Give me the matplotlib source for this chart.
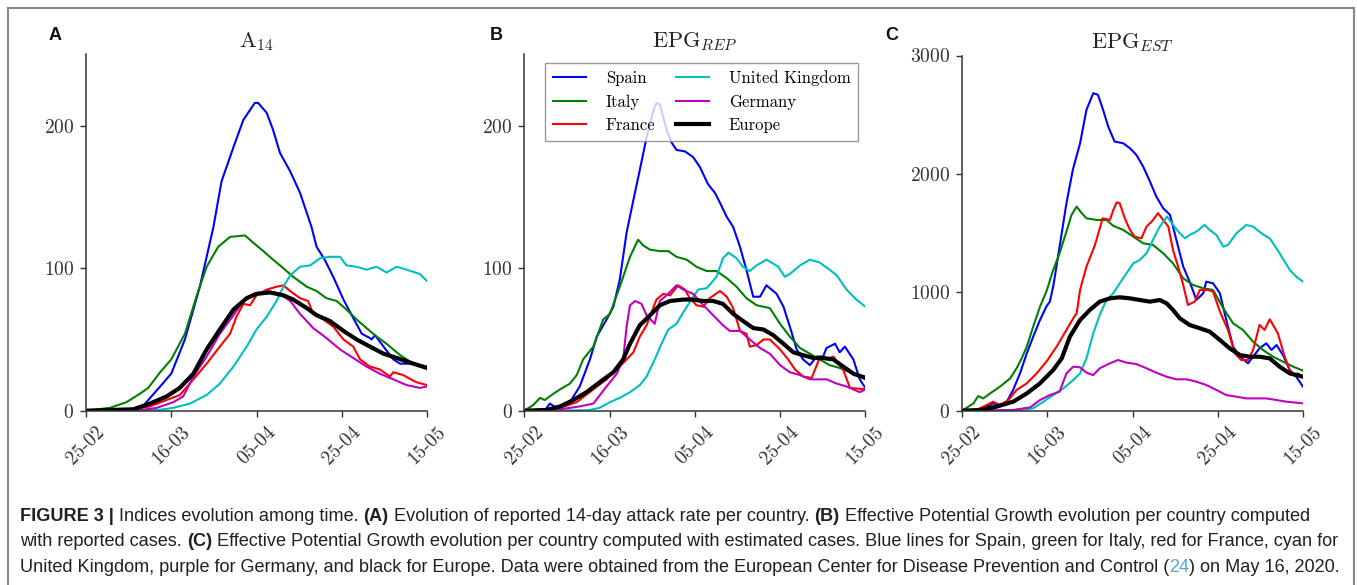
import matplotlib
matplotlib.use("Agg")
import matplotlib.pyplot as plt
from matplotlib.patches import Rectangle

plt.rcParams['mathtext.fontset'] = 'cm'
plt.rcParams['axes.formatter.use_mathtext'] = True
plt.rcParams['font.family'] = ['cmr10', 'DejaVu Serif']

# ---------------- data (day index from 25-02, 2020) ----------------
tick_days = [0, 20, 40, 60, 80]
tick_labels = ["25-02", "16-03", "05-04", "25-04", "15-05"]
countries = ["Spain", "Italy", "France", "United Kingdom", "Germany", "Europe"]

# Panel A: A14
a_spain_x = [0, 12.7, 17.4, 20, 23.2, 26.7, 29.9, 31.8, 34.6, 36.9, 39.6, 40.4, 42.4, 43.9, 45.5, 47.9, 50.2, 52.9, 54.1, 56, 58, 60.4, 62.7, 64.7, 66.6, 67, 67.8, 69.8, 72.1, 73.7, 76.8, 80]
a_spain_y = [0, 1, 17, 26, 50, 87, 129, 161, 185, 204, 216, 216, 209, 197, 181, 168, 153, 129, 115, 106, 94, 78, 65, 54, 51, 50, 53, 45, 36, 33, 33, 30]
a_italy_x = [0, 5.6, 9.5, 12.7, 14.6, 17.4, 20, 23.2, 25.9, 28.3, 31, 33.8, 37.3, 39.2, 41.6, 43.9, 46.3, 48.6, 51.8, 54.1, 56.4, 58.8, 61.1, 63.5, 65.8, 68.2, 70.5, 73.7, 76.8, 80]
a_italy_y = [0, 2, 6, 12, 16, 27, 36, 54, 80, 101, 115, 122, 123, 118, 112, 106, 100, 94, 87, 84, 79, 77, 71, 64, 58, 52, 47, 39, 33, 31]
a_france_x = [0, 11, 15, 18.9, 22, 25.2, 28.3, 31.4, 33.8, 35.3, 36.9, 38.5, 40, 42.4, 44.7, 46.3, 47.9, 50.2, 52.1, 53.3, 55.7, 58, 60.4, 62.7, 64.3, 66.6, 68.9, 71.3, 72.1, 74.4, 77.5, 80]
a_france_y = [0, 1, 3, 7.5, 11, 22, 33, 45, 54, 66, 75, 74, 81, 85, 87, 88, 84, 79, 77, 68, 64, 59, 50, 45, 36, 31, 29, 24, 27, 25, 20, 18]
a_uk_x = [0, 17, 20.5, 24.4, 28.3, 31.4, 34.6, 37.7, 40, 42.4, 44.7, 46.3, 47.9, 50.2, 52.6, 54.9, 57.2, 59.6, 61.1, 63.5, 65.8, 68.2, 70.5, 72.9, 75.2, 78.3, 80]
a_uk_y = [0, 0.5, 2, 5, 11, 19, 31, 45, 57, 66, 77, 87, 95, 101, 102, 107, 108, 108, 102, 101, 99, 101, 97, 101, 99, 96, 91]
a_germany_x = [0, 13, 16.6, 20.5, 22.8, 25.2, 28.3, 31.4, 34.6, 36.9, 39.2, 42.4, 45.5, 47.9, 50.2, 53.3, 56.4, 59.6, 62.7, 65.8, 68.9, 72.1, 75.2, 78.3, 80]
a_germany_y = [0, 0.5, 2, 6, 10, 24, 38, 54, 67, 77, 82, 84, 82, 77, 68, 58, 51, 43, 37, 31, 26, 22, 18, 16, 17]
a_europe_x = [0, 11.1, 15, 18.9, 22, 25.2, 28.3, 31.4, 34.6, 37.7, 40, 43.2, 46.3, 48.6, 51.8, 54.1, 57.2, 60.4, 63.5, 66.6, 69.8, 72.9, 76.8, 80]
a_europe_y = [0, 1, 5, 10, 16, 26, 43, 57, 71, 79, 82, 83, 81, 78, 72, 67, 63, 56, 50, 45, 40, 37, 33, 30]

# Panel B: EPG_REP
b_spain_x = [0, 5, 6, 7, 8.4, 10.7, 13, 15.4, 17, 19.3, 20.9, 22.4, 24, 25.6, 27.1, 28.7, 30.3, 31, 31.8, 33.4, 34.6, 35.7, 37.7, 39.6, 41.2, 43.1, 44.7, 45.9, 47.5, 49, 50.6, 52.1, 53.7, 55.3, 56.8, 59.2, 60.8, 62.3, 63.9, 65.4, 67, 68.6, 70.1, 70.9, 72.9, 74, 75.2, 77.2, 78.7, 80]
b_spain_y = [0, 1, 5, 3, 2, 6, 17, 36, 52, 64, 73, 92, 125, 148, 169, 192, 211, 216, 215, 197, 188, 183, 182, 178, 171, 159, 153, 146, 136, 129, 115, 99, 80, 80, 88, 82, 73, 59, 43, 36, 32, 38, 38, 44, 47, 41, 45, 36, 22, 16]
b_italy_x = [0, 2.1, 3.7, 4.8, 6.4, 8.4, 10.7, 12.3, 13.8, 16.2, 18.5, 20.1, 22.4, 24.8, 26.7, 27.9, 29.5, 31.8, 33.8, 35.7, 38.1, 40.4, 42.8, 45.1, 47.5, 49.8, 52.1, 54.5, 57.6, 60, 62.3, 64.7, 67, 69.3, 71.6, 74, 77.2, 80]
b_italy_y = [0, 4, 9, 7.5, 11, 15, 19, 25, 36, 45, 64, 68, 87, 108, 120, 116, 113, 112, 112, 108, 106, 101, 98, 98, 93, 87, 79, 74, 72, 61, 52, 44, 40, 36, 32, 30, 26, 24]
b_france_x = [0, 6, 8.4, 12.3, 16.2, 19.3, 22.4, 25.6, 27.1, 28.7, 31, 32.6, 34.2, 36.1, 37.7, 38.8, 40.4, 42, 43.5, 45.9, 47.5, 49, 50.6, 52.1, 52.9, 54.5, 56.1, 57.6, 60, 61.9, 63.5, 65.4, 67.4, 69.3, 70.9, 72.5, 74.8, 76.4, 80]
b_france_y = [0, 0.5, 2, 6, 15, 22, 31, 41, 52, 60, 78, 82, 81, 88, 85, 79, 74, 73, 79, 84, 80, 72, 56, 54, 45, 46, 50, 50, 43, 36, 29, 24, 23, 37, 36, 38, 29, 16, 15]
b_uk_x = [0, 15, 17.7, 20.1, 22.4, 24.8, 27.1, 28.7, 30.6, 32.2, 33.8, 35.7, 37.7, 39.2, 40.8, 42.8, 45.1, 46.6, 47.9, 49.8, 51.3, 52.9, 54.5, 56.8, 58, 59.6, 61.1, 62.3, 64.7, 67, 69.3, 71.6, 73.3, 75.6, 77.9, 80]
b_uk_y = [0, 0.3, 2, 6, 9, 13, 18, 24, 36, 47, 57, 61, 71, 78, 85, 86, 94, 107, 111, 107, 101, 98, 102, 106, 104, 101, 94, 96, 102, 106, 104, 99, 95, 85, 78, 73]
b_germany_x = [0, 6, 8.4, 13, 16.2, 19.3, 21.7, 23.2, 24, 24.8, 26, 27.5, 28.7, 30.6, 31.8, 33.4, 35.7, 37.3, 39.6, 42, 44.3, 46.6, 48.2, 50.6, 52.9, 55.3, 57.6, 60, 62.3, 64.7, 67, 69.3, 70.9, 73.3, 75.6, 78.7, 80]
b_germany_y = [0, 0.3, 1, 3, 5, 17, 26, 36, 59, 74, 77, 75, 67, 61, 77, 81, 88, 85, 82, 74, 67, 60, 56, 56, 50, 44, 40, 32, 27, 25, 22, 22, 22, 19, 17, 13, 15]
b_europe_x = [0, 5.2, 8.4, 11.5, 14.6, 17.7, 20.9, 23.2, 24.8, 27.1, 29.5, 31.8, 34.2, 37.3, 39.6, 42, 44.3, 46.6, 49, 51.3, 53.7, 56.1, 58.4, 60.8, 63.1, 65.4, 67.8, 70.1, 72.5, 74.8, 77.2, 80]
b_europe_y = [0, 0.5, 3, 7.5, 13, 20, 27, 36, 47, 60, 67, 74, 77, 78, 78, 77, 77, 75, 68, 63, 58, 57, 53, 47, 41, 39, 37, 37, 36, 31, 26, 23]

# Panel C: EPG_EST
c_spain_x = [0, 4, 5, 7.3, 8.9, 10.5, 12, 13.6, 15.2, 16.7, 18.3, 19.8, 20.6, 21.4, 22.9, 24.5, 26, 27.7, 29.2, 30.8, 31.9, 33.1, 34.3, 35.8, 37.8, 39.4, 40.9, 42.5, 44.1, 45.6, 47.2, 48.8, 50.3, 51.9, 53.4, 55, 56.6, 57.3, 58.9, 60.5, 62, 63.6, 65.2, 67.1, 68.3, 69.8, 71.4, 72.6, 73.8, 75.3, 76.9, 78.4, 80]
c_spain_y = [0, 5, 20, 62, 48, 76, 175, 315, 485, 625, 766, 880, 921, 1048, 1386, 1752, 2034, 2259, 2541, 2682, 2668, 2541, 2400, 2273, 2259, 2217, 2161, 2062, 1935, 1808, 1710, 1654, 1442, 1217, 1090, 935, 992, 1090, 1076, 992, 766, 541, 456, 400, 456, 527, 569, 513, 555, 470, 344, 287, 203]
c_italy_x = [0, 1.5, 2.7, 3.8, 5, 6.6, 8.9, 11.3, 12.8, 14, 15.2, 16.7, 18.3, 19.8, 21.4, 22.9, 24.5, 25.7, 26.9, 28.1, 29.2, 31.6, 33.9, 35.5, 37.8, 40.2, 42.5, 44.8, 47.2, 49.5, 51.9, 54.2, 56.6, 58.9, 61.3, 63.6, 65.9, 68.3, 70.6, 73, 75.3, 77.7, 80]
c_italy_y = [0, 34, 62, 124, 104, 146, 203, 273, 358, 442, 541, 710, 879, 1006, 1189, 1330, 1513, 1654, 1724, 1668, 1625, 1611, 1611, 1561, 1527, 1470, 1414, 1400, 1330, 1245, 1118, 1062, 1034, 1020, 865, 738, 682, 583, 513, 456, 414, 372, 338]
c_france_x = [0, 3, 4.2, 5.8, 7.3, 8.9, 10.9, 12.8, 15.2, 17.5, 19.8, 22.2, 24.5, 26.1, 26.9, 27.7, 29.2, 31.2, 33, 34.7, 35.5, 36.3, 37, 38.2, 39.4, 40.5, 42.1, 43.3, 44.5, 46, 47.2, 48.4, 49.5, 50.7, 51.9, 53, 54.6, 55.8, 57.7, 58.9, 60.5, 62.4, 64, 65.5, 67.1, 68.3, 69.8, 71, 72.2, 74.1, 75.7, 77.3, 78.8, 80]
c_france_y = [0, 5, 20, 48, 76, 48, 90, 175, 231, 315, 414, 541, 682, 780, 823, 1020, 1217, 1400, 1625, 1611, 1696, 1760, 1752, 1625, 1527, 1470, 1456, 1555, 1597, 1668, 1611, 1555, 1358, 1217, 1062, 893, 921, 1020, 1020, 1006, 837, 682, 485, 428, 428, 513, 724, 682, 772, 654, 456, 301, 315, 287]
c_uk_x = [0, 14, 16.7, 19.1, 21.4, 23.8, 26.1, 27.7, 29.2, 30.8, 32.3, 33.9, 35.5, 37, 38.6, 40.2, 41.7, 43.3, 44.8, 46.4, 48.1, 49.5, 51.1, 52.3, 53.4, 55, 56.9, 58.1, 59.7, 61.3, 62.4, 64.4, 66.7, 68.3, 70.2, 72.2, 74.5, 76.9, 78.4, 80]
c_uk_y = [0, 5, 20, 76, 132, 189, 259, 315, 442, 654, 808, 935, 992, 1076, 1161, 1245, 1273, 1330, 1442, 1555, 1640, 1569, 1499, 1456, 1484, 1513, 1569, 1527, 1484, 1386, 1400, 1499, 1569, 1555, 1499, 1456, 1330, 1189, 1132, 1090]
c_germany_x = [0, 12, 12.8, 16, 18.3, 20.6, 22.9, 24.5, 26.1, 27.7, 29.2, 30.8, 32.3, 34.7, 36.6, 38.6, 40.9, 43.3, 45.6, 48, 50.3, 52.7, 55, 57.3, 59.7, 62, 64.4, 66.7, 69.1, 71.4, 73.8, 76.1, 80]
c_germany_y = [0, 5, 11, 28, 90, 132, 161, 315, 372, 366, 321, 301, 358, 400, 428, 406, 394, 358, 321, 287, 265, 265, 245, 217, 175, 132, 118, 104, 104, 104, 90, 76, 62]
c_europe_x = [0, 4.2, 8.1, 12, 15.2, 18.3, 21.4, 23.4, 25.3, 27.7, 30, 32.3, 34.7, 37, 39.4, 41.7, 44.1, 46.4, 48, 49.5, 51.1, 53.4, 55.8, 58.1, 60.5, 62.8, 65.2, 67.5, 69.8, 72.2, 74.5, 76.9, 80]
c_europe_y = [0, 6, 34, 76, 146, 231, 344, 442, 625, 766, 851, 921, 949, 958, 949, 935, 921, 935, 907, 851, 780, 724, 696, 668, 597, 527, 470, 456, 456, 442, 372, 315, 287]

# ---------------- styling ----------------
W, H = 1357, 585
fig = plt.figure(figsize=(W / 100, H / 100), dpi=100)
fig.patch.set_facecolor('white')

line_colors = ['#0000ff', '#008000', '#ff0000', '#00bfbf', '#bf00bf', '#000000']
line_widths = [1.5, 1.5, 1.5, 1.5, 1.5, 3.0]

def px_axes(left, right, bottom, top):
    return [left / W, 1 - bottom / H, (right - left) / W, (bottom - top) / H]

panels = [
    dict(rect=px_axes(86, 427, 410.7, 54.5), ylim=(0, 250), yticks=[0, 100, 200],
         title=r'$\mathrm{A}_{14}$', letter='A', letter_x=55,
         series=[(a_spain_x, a_spain_y), (a_italy_x, a_italy_y), (a_france_x, a_france_y),
                 (a_uk_x, a_uk_y), (a_germany_x, a_germany_y), (a_europe_x, a_europe_y)]),
    dict(rect=px_axes(524.3, 865.3, 410.7, 54.5), ylim=(0, 250), yticks=[0, 100, 200],
         title=r'$\mathrm{EPG}_{REP}$', letter='B', letter_x=496,
         series=[(b_spain_x, b_spain_y), (b_italy_x, b_italy_y), (b_france_x, b_france_y),
                 (b_uk_x, b_uk_y), (b_germany_x, b_germany_y), (b_europe_x, b_europe_y)]),
    dict(rect=px_axes(962, 1303, 410.7, 55.5), ylim=(0, 3000), yticks=[0, 1000, 2000, 3000],
         title=r'$\mathrm{EPG}_{EST}$', letter='C', letter_x=892,
         series=[(c_spain_x, c_spain_y), (c_italy_x, c_italy_y), (c_france_x, c_france_y),
                 (c_uk_x, c_uk_y), (c_germany_x, c_germany_y), (c_europe_x, c_europe_y)]),
]

spine_col = '#333333'
for i, p in enumerate(panels):
    ax = fig.add_axes(p['rect'])
    handles = []
    for (xs, ys), col, lw, name in zip(p['series'], line_colors, line_widths, countries):
        h, = ax.plot(xs, ys, color=col, lw=lw, label=name, solid_joinstyle='round')
        handles.append(h)
    ax.set_xlim(0, 80)
    ax.set_ylim(*p['ylim'])
    ax.set_xticks(tick_days)
    ax.set_xticklabels(tick_labels, rotation=45)
    ax.set_yticks(p['yticks'])
    for s in ['top', 'right']:
        ax.spines[s].set_visible(False)
    for s in ['left', 'bottom']:
        ax.spines[s].set_color(spine_col)
        ax.spines[s].set_linewidth(1.1)
    ax.tick_params(direction='out', length=4.5, width=1, color=spine_col,
                   labelsize=14, labelcolor='#333333', pad=4)
    ax.set_title(p['title'], fontsize=16, pad=5, color='#222222')
    fig.text(p['letter_x'] / W, 1 - 35 / H, p['letter'], fontsize=13, fontweight='bold',
             family='Liberation Sans', ha='center', va='center', color='#111111')
    if i == 1:
        leg = ax.legend(handles=handles, ncol=2, loc='upper left',
                        bbox_to_anchor=(0.061, 0.977), borderaxespad=0.0,
                        fontsize=12, fancybox=False,
                        edgecolor='#808080', framealpha=0.8, handlelength=2.0,
                        handletextpad=1.2, columnspacing=1.2, labelspacing=0.5,
                        borderpad=0.45)
        leg.get_frame().set_linewidth(1.0)

# outer frame
fig.patches.append(Rectangle((8 / W, -0.01), (1354 - 8) / W, (H - 8) / H + 0.01,
                             transform=fig.transFigure, fill=False,
                             edgecolor='#888888', lw=1.5))

# caption with mixed styles
cap_font = 'Liberation Sans'
cap_size = 13.05
cap_col = '#231f20'
link_col = '#5aa5cf'

def draw_line(y_px, segments):
    fig.canvas.draw()
    renderer = fig.canvas.get_renderer()
    x = 20 / W
    for txt, weight, col in segments:
        t = fig.text(x, 1 - y_px / H, txt, fontsize=cap_size, fontweight=weight,
                     family=cap_font, color=col, ha='left', va='baseline')
        bb = t.get_window_extent(renderer=renderer)
        x += bb.width / W

caption_lines = [
    (521, [("FIGURE 3 | ", 'bold', cap_col), ("Indices evolution among time. ", 'normal', cap_col),
           ("(A)", 'bold', cap_col), (" Evolution of reported 14-day attack rate per country. ", 'normal', cap_col),
           ("(B)", 'bold', cap_col), (" Effective Potential Growth evolution per country computed", 'normal', cap_col)]),
    (546.5, [("with reported cases. ", 'normal', cap_col), ("(C)", 'bold', cap_col),
           (" Effective Potential Growth evolution per country computed with estimated cases. Blue lines for Spain, green for Italy, red for France, cyan for", 'normal', cap_col)]),
    (572, [("United Kingdom, purple for Germany, and black for Europe. Data were obtained from the European Center for Disease Prevention and Control (", 'normal', cap_col),
           ("24", 'normal', link_col), (") on May 16, 2020.", 'normal', cap_col)]),
]
for y_px, segs in caption_lines:
    draw_line(y_px, segs)

fig.savefig('out.png', dpi=100)
